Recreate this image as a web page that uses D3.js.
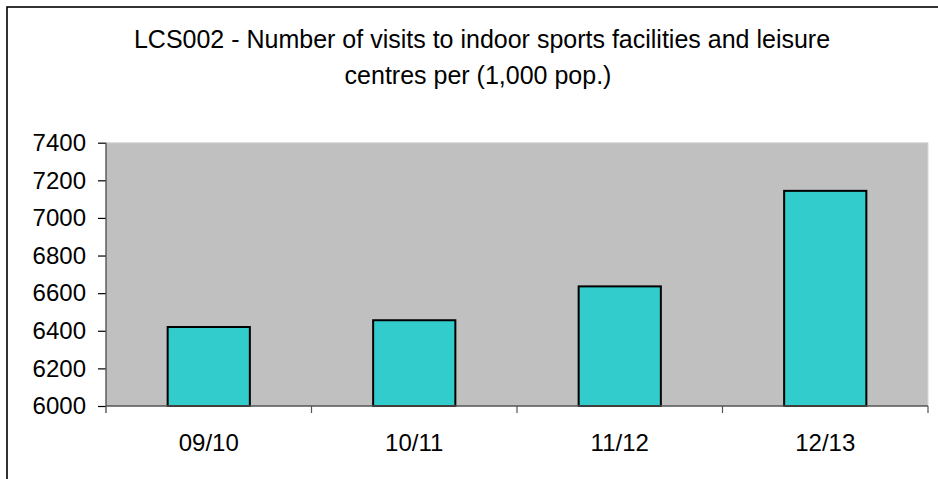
<!DOCTYPE html>
<html>
<head>
<meta charset="utf-8">
<script src="https://cdn.jsdelivr.net/npm/d3@7/dist/d3.min.js"></script>
<style>
  html, body { margin: 0; padding: 0; background: #fff; }
  svg { display: block; font-family: "Liberation Sans", Arial, Helvetica, sans-serif; }
</style>
</head>
<body>
<svg id="chart" width="938" height="479"></svg>
<script>
const titleLines = ["LCS002 - Number of visits to indoor sports facilities and leisure", "centres per (1,000 pop.)"];
const categories = ["09/10", "10/11", "11/12", "12/13"];
const values = [6420, 6456, 6636, 7144];
const yTicks = [6000, 6200, 6400, 6600, 6800, 7000, 7200, 7400];

const svg = d3.select("#chart");
const plot = { left: 106, right: 928, top: 142.7, bottom: 406 };

// outer chart frame
svg.append("rect").attr("x", 7).attr("y", 7).attr("width", 1000).attr("height", 1000)
  .attr("fill", "#fff").attr("stroke", "#000").attr("stroke-width", 1.6);

// title
const title = svg.append("text").attr("text-anchor", "middle").attr("font-size", 25).attr("fill", "#000");
titleLines.forEach((t, i) => {
  title.append("tspan").attr("x", i === 0 ? 482 : 478).attr("y", 48 + i * 36).text(t);
});

const x = d3.scaleBand().domain(categories).range([plot.left, plot.right])
  .paddingInner(0.6).paddingOuter(0.3);
const y = d3.scaleLinear().domain([6000, 7400]).range([plot.bottom, plot.top]);

// plot background
svg.append("rect").attr("x", plot.left).attr("y", plot.top)
  .attr("width", plot.right - plot.left).attr("height", plot.bottom - plot.top)
  .attr("fill", "#c0c0c0");
svg.append("line").attr("x1", plot.left).attr("x2", plot.right).attr("y1", plot.top).attr("y2", plot.top)
  .attr("stroke", "#d8d8d8").attr("stroke-width", 1);
svg.append("line").attr("x1", plot.right).attr("x2", plot.right).attr("y1", plot.top).attr("y2", plot.bottom)
  .attr("stroke", "#d8d8d8").attr("stroke-width", 1);

// bars
svg.append("g").selectAll("rect").data(categories).join("rect")
  .attr("x", d => x(d))
  .attr("y", (d, i) => y(values[i]))
  .attr("width", x.bandwidth())
  .attr("height", (d, i) => y(6000) - y(values[i]))
  .attr("fill", "#33cccc")
  .attr("stroke", "#000")
  .attr("stroke-width", 2);

// y axis
const yAxis = svg.append("g").attr("transform", `translate(${plot.left},0)`)
  .call(d3.axisLeft(y).tickValues(yTicks).tickSize(8).tickPadding(12).tickFormat(d3.format("d")));
yAxis.select(".domain").remove();
yAxis.selectAll(".tick line").attr("stroke", "#000").attr("stroke-width", 1.2);
yAxis.selectAll(".tick text").attr("font-size", 24).attr("fill", "#000")
  .attr("font-family", "Liberation Sans, Arial, sans-serif");

// y axis line (extends below baseline)
svg.append("line").attr("x1", plot.left).attr("x2", plot.left).attr("y1", plot.top).attr("y2", plot.bottom + 7)
  .attr("stroke", "#555").attr("stroke-width", 1.4);

// x axis
const step = x.step();
const boundaries = d3.range(categories.length + 1).map(i => plot.left + i * step);
const xAxis = svg.append("g").attr("transform", `translate(0,${plot.bottom})`)
  .call(d3.axisBottom(x).tickSize(0).tickPadding(28));
xAxis.select(".domain").remove();
xAxis.selectAll(".tick text").attr("font-size", 24).attr("fill", "#000")
  .attr("font-family", "Liberation Sans, Arial, sans-serif");
svg.append("line").attr("x1", plot.left).attr("x2", plot.right).attr("y1", plot.bottom).attr("y2", plot.bottom)
  .attr("stroke", "#555").attr("stroke-width", 1.6);
svg.append("g").selectAll("line").data(boundaries.slice(1)).join("line")
  .attr("x1", d => d).attr("x2", d => d)
  .attr("y1", plot.bottom).attr("y2", plot.bottom + 7)
  .attr("stroke", "#555").attr("stroke-width", 1.2);
</script>
</body>
</html>
